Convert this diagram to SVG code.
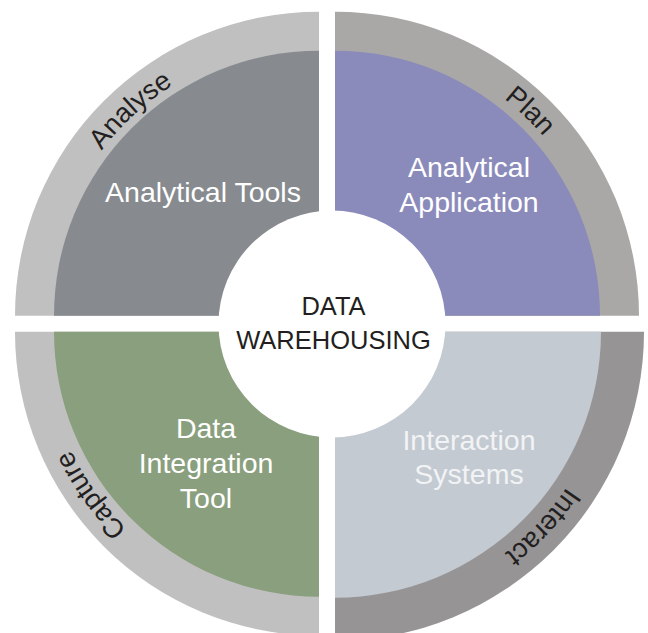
<svg xmlns="http://www.w3.org/2000/svg" xmlns:xlink="http://www.w3.org/1999/xlink" width="648" height="633" viewBox="0 0 648 633">
  <style>
    .lbl { font-family: "Liberation Sans", Arial, sans-serif; font-size: 28.5px; fill: #ffffff; text-anchor: middle; }
    .ring { font-family: "Liberation Sans", Arial, sans-serif; font-size: 27.5px; fill: #231f20; text-anchor: middle; }
    .core { font-family: "Liberation Sans", Arial, sans-serif; font-size: 25.5px; fill: #231f20; text-anchor: middle; }
  </style>
  <defs>
    <path id="arc-analyse" d="M 53.4 374.6 A 271 271 0 0 1 400.8 56.3"/>
    <path id="arc-plan" d="M 257.7 52.9 A 273 273 0 0 1 601.3 380.1"/>
    <path id="arc-capture" d="M 345.7 604.4 A 273 273 0 0 1 69.5 218.5"/>
    <path id="arc-interact" d="M 601.1 251.4 A 277 277 0 0 1 271.5 602.4"/>
  </defs>
  <rect width="648" height="633" fill="#ffffff"/>

  <g id="analyse">
    <path d="M 319 315.7 L 15 315.7 A 304 304 0 0 1 319 11.7 Z" fill="#c0c0c0"/>
    <path d="M 319 315.7 L 54 315.7 A 265 265 0 0 1 319 50.7 Z" fill="#878b8f"/>
    <text class="ring"><textPath xlink:href="#arc-analyse" href="#arc-analyse" startOffset="50%">Analyse</textPath></text>
    <text class="lbl" x="203" y="202">Analytical Tools</text>
  </g>

  <g id="plan">
    <path d="M 335 315.7 L 335 11.7 A 304 304 0 0 1 639 315.7 Z" fill="#a9a8a6"/>
    <path d="M 335 315.7 L 335 50.7 A 265 265 0 0 1 600 315.7 Z" fill="#8b8bbb"/>
    <text class="ring"><textPath xlink:href="#arc-plan" href="#arc-plan" startOffset="50%">Plan</textPath></text>
    <text class="lbl" x="469" y="177">Analytical</text>
    <text class="lbl" x="469" y="212">Application</text>
  </g>

  <g id="capture">
    <path d="M 319 331.7 L 319 635.7 A 304 304 0 0 1 15 331.7 Z" fill="#c0c0c0"/>
    <path d="M 319 331.7 L 319 596.7 A 265 265 0 0 1 54 331.7 Z" fill="#8a9f7d"/>
    <text class="ring"><textPath xlink:href="#arc-capture" href="#arc-capture" startOffset="50%">Capture</textPath></text>
    <text class="lbl" x="206" y="438">Data</text>
    <text class="lbl" x="206" y="473">Integration</text>
    <text class="lbl" x="206" y="508">Tool</text>
  </g>

  <g id="interact">
    <path d="M 335 331.7 L 644 331.7 A 309 309 0 0 1 335 640.7 Z" fill="#969495"/>
    <path d="M 335 331.7 L 601 331.7 A 266 266 0 0 1 335 597.7 Z" fill="#c3cad1"/>
    <text class="ring"><textPath xlink:href="#arc-interact" href="#arc-interact" startOffset="50%">Interact</textPath></text>
    <text class="lbl" x="469" y="450" style="fill:#f2f3f5">Interaction</text>
    <text class="lbl" x="469" y="484" style="fill:#f2f3f5">Systems</text>
  </g>

  <g id="data-warehousing">
    <circle cx="332" cy="324" r="113.5" fill="#ffffff"/>
    <text class="core" x="333.5" y="315">DATA</text>
    <text class="core" x="333.5" y="349">WAREHOUSING</text>
  </g>

  <g id="connectors"/>
</svg>
